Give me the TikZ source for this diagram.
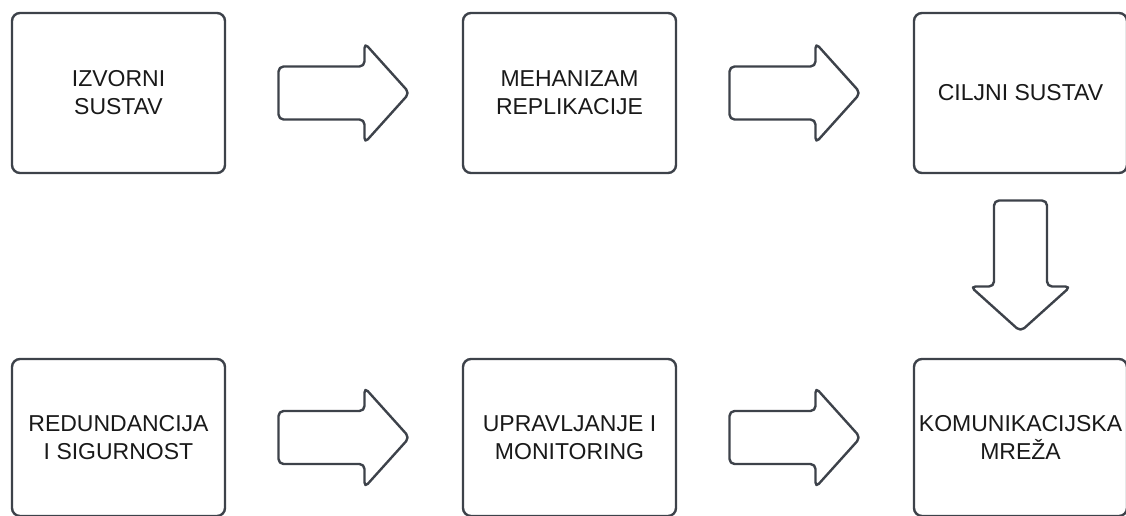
\documentclass[tikz,border=0pt]{standalone}
\usepackage{fontspec}
\setmainfont{Liberation Sans}
\usepackage{tikz}
\usetikzlibrary{positioning,calc}
\definecolor{lineclr}{rgb}{0.24, 0.26, 0.29}
\definecolor{txtclr}{rgb}{0.1, 0.1, 0.1}
\tikzset{ %
  ,every node/.style={font=\fontsize{23}{28}\selectfont, text=txtclr}
  ,block/.style={draw=lineclr, line width=2.4pt, rounded corners=8pt, outer sep=0, inner sep=2pt, align=center, minimum width=213pt, minimum height=160pt, node distance=238pt}
  ,lowblock/.style={block, minimum height=157pt}
  ,blockarrow/.pic={
    \draw[lineclr, line width=2.4pt, rounded corners=5pt, line join=round]
      (-65.5pt,-26.5pt) -- (20.5pt,-26.5pt) -- (20.5pt,-50pt) -- (65.5pt,0pt)
      -- (20.5pt,50pt) -- (20.5pt,26.5pt) -- (-65.5pt,26.5pt) -- cycle;
  }
}
\begin{document}
\begin{tikzpicture}
      \useasboundingbox (-118.5pt,93pt) rectangle (1007.5pt,-423pt);
      \draw 
      node[block] (izvor) {IZVORNI\\SUSTAV}
      node[block, right=of izvor] (repl) {MEHANIZAM\\REPLIKACIJE}
      node[block, right=of repl] (cilj) {CILJNI SUSTAV}
      node[lowblock, below=186pt of cilj] (mreza) {KOMUNIKACIJSKA\\MREŽA}
      node[lowblock, left=of mreza] (upr) {UPRAVLJANJE I\\MONITORING}
      node[lowblock, left=of upr] (red) {REDUNDANCIJA\\I SIGURNOST};
      % block arrows between the boxes
      \pic at ($(izvor.east)!0.5!(repl.west)$) {blockarrow};
      \pic at ($(repl.east)!0.5!(cilj.west)$) {blockarrow};
      \pic[rotate=-90] at ($(cilj.south)!0.5!(mreza.north)$) {blockarrow};
      \pic at ($(red.east)!0.5!(upr.west)$) {blockarrow};
      \pic at ($(upr.east)!0.5!(mreza.west)$) {blockarrow};
    \end{tikzpicture}
\end{document}
